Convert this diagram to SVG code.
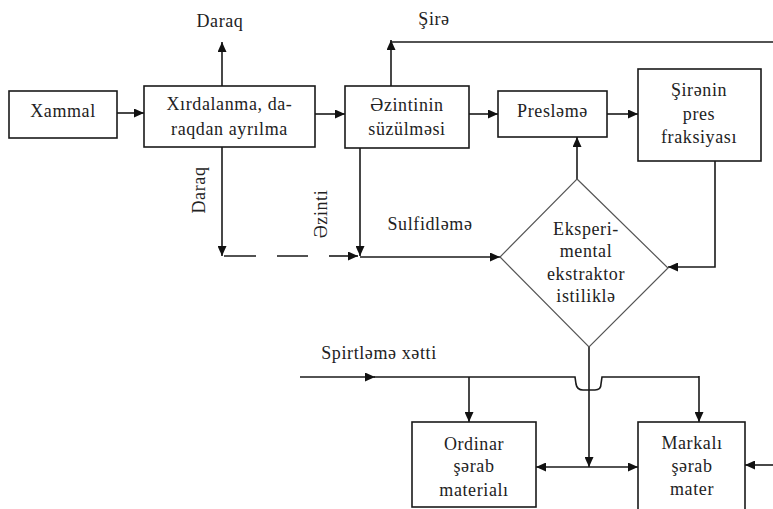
<svg xmlns="http://www.w3.org/2000/svg" width="773" height="509" viewBox="0 0 773 509">
<defs>
<style>
.box{fill:#fff;stroke:#1a1a1a;stroke-width:1.6}
.dia{fill:#fff;stroke:#555;stroke-width:1.2}
.t{font-family:"Liberation Serif","Times New Roman",serif;font-size:18px;letter-spacing:0.6px;fill:#222;text-anchor:middle}
.ln{fill:none;stroke:#1a1a1a;stroke-width:1.6}
.arr{marker-end:url(#ah)}
</style>
<marker id="ah" markerUnits="userSpaceOnUse" markerWidth="11" markerHeight="9" refX="10" refY="4.5" orient="auto-start-reverse">
<path d="M0,0 L10,4.5 L0,9 z" fill="#111"/>
</marker>
</defs>
<rect width="773" height="509" fill="#fff"/>

<g id="connectors">
<path class="ln arr" d="M117,113 L144,113"/>
<path class="ln arr" d="M222,86 L222,42"/>
<path class="ln arr" d="M315,114 L345,114"/>
<path class="ln arr" d="M391,86 L391,40"/>
<path class="ln" d="M391,42 L773,42"/>
<path class="ln arr" d="M469,114 L498,114"/>
<path class="ln arr" d="M607,114 L638,114"/>
<path class="ln arr" d="M577,179 L577,137"/>
<path class="ln arr" d="M715,161 L715,267 L668,267"/>
<path class="ln arr" d="M222,147 L222,256"/>
<path class="ln" d="M224,256 L256,256 M277,256 L308,256"/>
<path class="ln arr" d="M329,256 L358,256"/>
<path class="ln arr" d="M360,148 L360,256"/>
<path class="ln arr" d="M360,257 L500,257"/>
<path class="ln arr" d="M300,377 L375,377"/>
<path class="ln" d="M374,377 L575,377 L576,384 Q577,390 583,390 L595,390 Q601,390 601,384 L602,377 L699,377"/>
<path class="ln arr" d="M699,376 L699,422"/>
<path class="ln arr" d="M469,377 L469,422"/>
<path class="ln arr" d="M589,347 L589,467"/>
<path class="ln" d="M536,467 L638,467" marker-start="url(#ah)" marker-end="url(#ah)"/>
<path class="ln arr" d="M773,465 L745,465"/>
</g>

<g id="xammal">
<rect class="box" x="9" y="91" width="108" height="47"/>
<text class="t" x="63" y="117">Xammal</text>
</g>
<g id="xirdalanma">
<rect class="box" x="144" y="86" width="171" height="61"/>
<text class="t" x="229.5" y="110">Xırdalanma, da-</text>
<text class="t" x="229.5" y="135">raqdan ayrılma</text>
</g>
<g id="ezintinin">
<rect class="box" x="345" y="86" width="124" height="62"/>
<text class="t" x="407" y="111">Əzintinin</text>
<text class="t" x="407" y="135">süzülməsi</text>
</g>
<g id="presleme">
<rect class="box" x="498" y="91" width="109" height="46"/>
<text class="t" x="552.5" y="117">Presləmə</text>
</g>
<g id="sirenin">
<rect class="box" x="638" y="69" width="123" height="92"/>
<text class="t" x="699" y="96">Şirənin</text>
<text class="t" x="699" y="120">pres</text>
<text class="t" x="699" y="143">fraksiyası</text>
</g>
<g id="ekstraktor">
<polygon class="dia" points="577,179 668,268 589,347 500,257"/>
<text class="t" x="586" y="235">Eksperi-</text>
<text class="t" x="586" y="257">mental</text>
<text class="t" x="586" y="280">ekstraktor</text>
<text class="t" x="586" y="302">istiliklə</text>
</g>
<g id="ordinar">
<rect class="box" x="412" y="422" width="124" height="85"/>
<text class="t" x="474" y="450">Ordinar</text>
<text class="t" x="474" y="472">şərab</text>
<text class="t" x="474" y="496">materialı</text>
</g>
<g id="markali">
<rect class="box" x="638" y="422" width="107" height="100"/>
<text class="t" x="692" y="449">Markalı</text>
<text class="t" x="692" y="472">şərab</text>
<text class="t" x="692" y="495">mater</text>
</g>

<g id="labels">
<text class="t" x="220" y="27">Daraq</text>
<text class="t" x="434" y="25">Şirə</text>
<text class="t" x="430" y="230">Sulfidləmə</text>
<text class="t" x="379" y="359">Spirtləmə xətti</text>
<text class="t" transform="translate(205,190) rotate(-90)">Daraq</text>
<text class="t" transform="translate(327,214) rotate(-90)">Əzinti</text>
</g>
</svg>
